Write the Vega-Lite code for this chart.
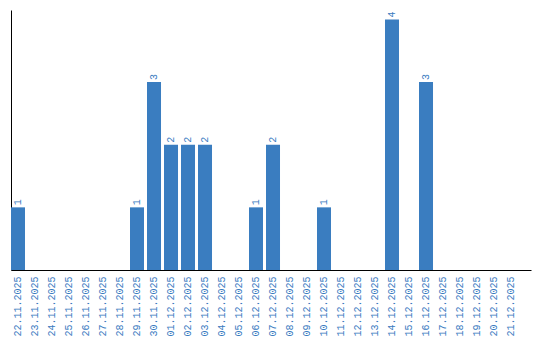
{
  "$schema": "https://vega.github.io/schema/vega-lite/v6.json",
  "width": 520,
  "height": 260,
  "autosize": {"type": "none"},
  "padding": {"left": 11, "top": 10, "right": 9, "bottom": 70},
  "background": "white",
  "config": {"view": {"stroke": null}},
  "data": {"values": [
    {"date": "22.11.2025", "count": 1},
    {"date": "23.11.2025", "count": 0},
    {"date": "24.11.2025", "count": 0},
    {"date": "25.11.2025", "count": 0},
    {"date": "26.11.2025", "count": 0},
    {"date": "27.11.2025", "count": 0},
    {"date": "28.11.2025", "count": 0},
    {"date": "29.11.2025", "count": 1},
    {"date": "30.11.2025", "count": 3},
    {"date": "01.12.2025", "count": 2},
    {"date": "02.12.2025", "count": 2},
    {"date": "03.12.2025", "count": 2},
    {"date": "04.12.2025", "count": 0},
    {"date": "05.12.2025", "count": 0},
    {"date": "06.12.2025", "count": 1},
    {"date": "07.12.2025", "count": 2},
    {"date": "08.12.2025", "count": 0},
    {"date": "09.12.2025", "count": 0},
    {"date": "10.12.2025", "count": 1},
    {"date": "11.12.2025", "count": 0},
    {"date": "12.12.2025", "count": 0},
    {"date": "13.12.2025", "count": 0},
    {"date": "14.12.2025", "count": 4},
    {"date": "15.12.2025", "count": 0},
    {"date": "16.12.2025", "count": 3},
    {"date": "17.12.2025", "count": 0},
    {"date": "18.12.2025", "count": 0},
    {"date": "19.12.2025", "count": 0},
    {"date": "20.12.2025", "count": 0},
    {"date": "21.12.2025", "count": 0}
  ]},
  "encoding": {
    "x": {
      "field": "date", "type": "ordinal", "sort": null,
      "scale": {"paddingInner": 0.176, "paddingOuter": 0.382, "align": 0},
      "axis": {
        "title": null, "ticks": false, "labelAngle": 270, "labelAlign": "right",
        "labelBaseline": "middle", "labelPadding": 6,
        "labelFont": "Liberation Mono", "labelFontSize": 10, "labelColor": "#3a7bbf",
        "domainColor": "#000000", "domainWidth": 1, "grid": false
      }
    },
    "y": {
      "field": "count", "type": "quantitative",
      "scale": {"domain": [0, 4.15], "nice": false, "zero": true},
      "axis": {
        "title": null, "ticks": false, "labels": false, "grid": false,
        "domainColor": "#000000", "domainWidth": 1
      }
    }
  },
  "layer": [
    {"mark": {"type": "bar", "color": "#3a7dc0"}},
    {
      "transform": [{"filter": "datum.count > 0"}],
      "mark": {
        "type": "text", "angle": 270, "align": "left", "baseline": "middle",
        "dx": 2, "font": "Liberation Mono", "fontSize": 10, "color": "#3a7bbf"
      },
      "encoding": {"text": {"field": "count", "type": "quantitative"}}
    }
  ]
}
